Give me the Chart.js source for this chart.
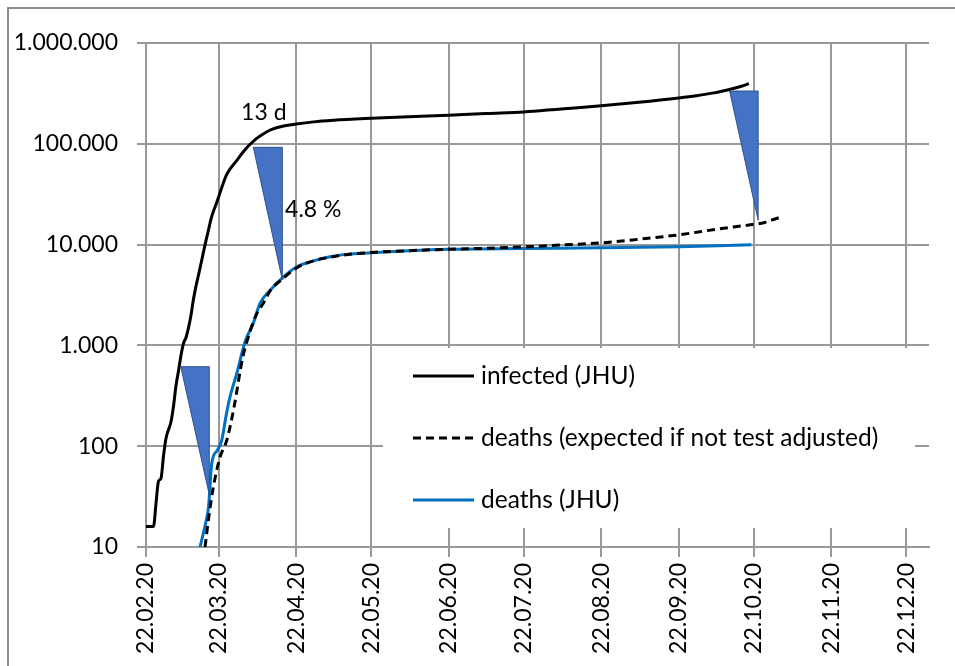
<!DOCTYPE html>
<html>
<head>
<meta charset="utf-8">
<script src="https://cdn.jsdelivr.net/npm/chart.js@4.4.0/dist/chart.umd.min.js"></script>
<style>
html, body { margin: 0; padding: 0; background: #fff; }
</style>
</head>
<body>
<canvas id="chart" width="955" height="666"></canvas>
<script>
// x values are days counted from 22.02.20
var xTickDays = [0, 29, 60, 90, 121, 151, 182, 213, 243, 274, 304];
var xTickLabels = ['22.02.20', '22.03.20', '22.04.20', '22.05.20', '22.06.20', '22.07.20',
	'22.08.20', '22.09.20', '22.10.20', '22.11.20', '22.12.20'];
var yTickValues = [10, 100, 1000, 10000, 100000, 1000000];
var yTickLabels = ['10', '100', '1.000', '10.000', '100.000', '1.000.000'];

var infectedDays = [0, 3, 4, 5, 6, 7, 8, 10, 11, 12, 13, 14, 15, 16, 17, 18, 19, 20, 21, 22, 23, 24, 25,
	26, 27, 28, 30, 32, 34, 36, 38, 40, 42, 44, 47, 50, 55, 60, 67, 75, 90, 105, 121, 136, 151,
	166, 182, 197, 213, 220, 227, 234, 238, 241];
var infectedValues = [16, 16, 27, 45, 48, 80, 120, 175, 250, 400, 560, 800, 1050, 1200, 1500, 2000, 2900,
	3900, 5000, 6500, 8500, 11000, 14000, 18000, 21500, 25000, 35000, 48000, 58000, 67000, 78000,
	90000, 101000, 112000, 126000, 138000, 150000, 157000, 165000, 171000, 179000, 186000, 192000,
	200000, 207000, 222000, 238000, 258000, 285000, 300000, 320000, 350000, 372000, 395000];

var expectedDays = [23.6, 25, 26.9, 29.6, 32.3, 35, 38.7, 41.6, 44, 46.9, 50, 54.3, 60.3, 67, 73.6, 80, 90,
	105, 121, 136, 151, 166, 182, 197, 213, 228, 243, 247, 250, 254];
var expectedValues = [10, 19, 39, 78, 115, 230, 767, 1370, 2000, 2620, 3600, 4500, 5900, 6900, 7500, 7950,
	8350, 8700, 9000, 9200, 9500, 9900, 10400, 11300, 12500, 14200, 15900, 16500, 17500, 18800];

var deathsDays = [21.6, 24, 25, 26.3, 28.5, 30.3, 32, 33.6, 36.3, 39.6, 42.9, 45.6, 50, 54.3, 60.3, 67,
	73.6, 80, 90, 105, 121, 151, 182, 213, 242];
var deathsValues = [10, 18, 25, 68, 91, 115, 200, 310, 528, 1090, 1660, 2620, 3600, 4630, 6030, 6900,
	7590, 8000, 8300, 8700, 9000, 9150, 9300, 9500, 9950];

// delay / ratio triangles (13 d, 4.8 %)
var triFromDay = [13.9, 42.9, 233.3];
var triToDay = [25.3, 54.5, 244.7];
var triTopValue = [615, 92300, 334000];
var triBottomValue = [33, 4460, 17500];

var noteTexts = ['13 d', '4.8 %'];
var noteDays = [38, 55.6];
var noteValues = [204000, 22500];

var FONT = { family: 'Lato', size: 23 };
var GRID = '#999999';

function pts(days, vals){
	return days.map(function(d, i){ return { x: d, y: vals[i] }; });
}

var trianglePlugin = {
	id: 'triangles',
	afterDatasetsDraw: function(chart){
		var ctx = chart.ctx;
		var xs = chart.scales.x, ys = chart.scales.y;
		ctx.save();
		for (var i = 0; i < triFromDay.length; i++) {
			var x0 = xs.getPixelForValue(triFromDay[i]);
			var x1 = xs.getPixelForValue(triToDay[i]);
			var yt = ys.getPixelForValue(triTopValue[i]);
			var yb = ys.getPixelForValue(triBottomValue[i]);
			ctx.beginPath();
			ctx.moveTo(x0, yt);
			ctx.lineTo(x1, yt);
			ctx.lineTo(x1, yb);
			ctx.closePath();
			ctx.fillStyle = '#4472C4';
			ctx.fill();
			ctx.strokeStyle = '#2F528F';
			ctx.lineWidth = 1;
			ctx.stroke();
		}
		ctx.fillStyle = '#000';
		ctx.font = FONT.size + 'px ' + FONT.family;
		ctx.textAlign = 'left';
		ctx.textBaseline = 'middle';
		for (var j = 0; j < noteTexts.length; j++) {
			ctx.fillText(noteTexts[j], xs.getPixelForValue(noteDays[j]), ys.getPixelForValue(noteValues[j]));
		}
		ctx.restore();
	}
};

var boxLegendPlugin = {
	id: 'boxLegend',
	afterDraw: function(chart, args, opts){
		var ctx = chart.ctx;
		ctx.save();
		ctx.fillStyle = '#fff';
		ctx.fillRect(opts.left, opts.top, opts.width, opts.height);
		ctx.font = opts.fontSize + 'px ' + FONT.family;
		ctx.textBaseline = 'middle';
		ctx.textAlign = 'left';
		chart.data.datasets.forEach(function(ds, i){
			var y = opts.firstRow + i * opts.rowGap;
			ctx.beginPath();
			ctx.setLineDash(ds.borderDash || []);
			ctx.strokeStyle = ds.borderColor;
			ctx.lineWidth = ds.borderWidth;
			ctx.moveTo(opts.lineX, y);
			ctx.lineTo(opts.lineX + opts.lineLen, y);
			ctx.stroke();
			ctx.setLineDash([]);
			ctx.fillStyle = '#000';
			ctx.fillText(ds.label, opts.lineX + opts.lineLen + 7, y);
		});
		ctx.restore();
	}
};

var framePlugin = {
	id: 'frame',
	beforeDraw: function(chart){
		var ctx = chart.ctx;
		ctx.save();
		ctx.fillStyle = '#fff';
		ctx.fillRect(0, 0, chart.width, chart.height);
		ctx.strokeStyle = '#8c8c8c';
		ctx.lineWidth = 2;
		ctx.beginPath();
		ctx.moveTo(8, chart.height);
		ctx.lineTo(8, 8);
		ctx.lineTo(chart.width, 8);
		ctx.stroke();
		ctx.restore();
	}
};

var ctx = document.getElementById('chart').getContext('2d');
var myChart = new Chart(ctx, {
	type: 'line',
	data: {
		datasets: [{
			label: 'infected (JHU)',
			data: pts(infectedDays, infectedValues),
			borderColor: '#000000',
			borderWidth: 3,
			order: 0
		}, {
			label: 'deaths (expected if not test adjusted)',
			data: pts(expectedDays, expectedValues),
			borderColor: '#000000',
			borderWidth: 3,
			borderDash: [8, 5],
			order: 1
		}, {
			label: 'deaths (JHU)',
			data: pts(deathsDays, deathsValues),
			borderColor: '#0070C0',
			borderWidth: 3,
			order: 2
		}]
	},
	options: {
		responsive: false,
		animation: false,
		elements: {
			point: { radius: 0 },
			line: { cubicInterpolationMode: 'monotone', fill: false }
		},
		layout: { padding: { left: 0, right: 26, top: 43, bottom: 0 } },
		scales: {
			x: {
				type: 'linear',
				min: 0,
				max: 313,
				afterBuildTicks: function(s){ s.ticks = xTickDays.map(function(v){ return { value: v }; }); },
				afterFit: function(s){ s.height = 119; },
				ticks: {
					autoSkip: false,
					minRotation: 90,
					maxRotation: 90,
					padding: 6,
					color: '#000',
					font: FONT,
					callback: function(v, i){ return xTickLabels[i]; }
				},
				grid: { color: GRID, lineWidth: 2, tickLength: 10 },
				border: { color: GRID, width: 2 }
			},
			y: {
				type: 'logarithmic',
				min: 10,
				max: 1000000,
				afterBuildTicks: function(s){ s.ticks = yTickValues.map(function(v){ return { value: v }; }); },
				afterFit: function(s){ s.width = 146; },
				ticks: {
					padding: 19,
					color: '#000',
					font: FONT,
					callback: function(v, i){ return yTickLabels[i]; }
				},
				grid: { color: GRID, lineWidth: 2, tickLength: 9 },
				border: { color: GRID, width: 2 }
			}
		},
		plugins: {
			legend: { display: false },
			tooltip: { enabled: false },
			boxLegend: { left: 383, top: 348, width: 532, height: 180, firstRow: 376, rowGap: 62, lineX: 413, lineLen: 61, fontSize: 24.5 }
		}
	},
	plugins: [framePlugin, trianglePlugin, boxLegendPlugin]
});
</script>
</body>
</html>
